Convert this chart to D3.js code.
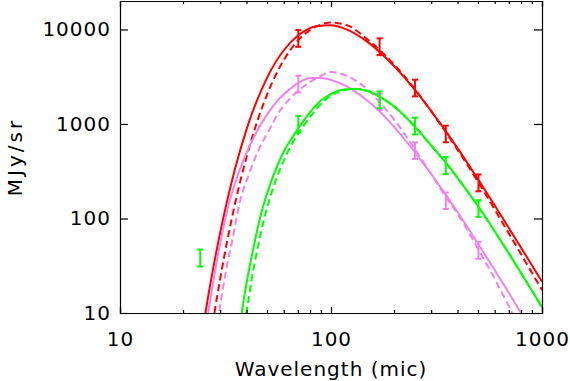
<!DOCTYPE html>
<html>
<head>
<meta charset="utf-8">
<script src="https://cdn.jsdelivr.net/npm/d3@7"></script>
<style>
  body { margin: 0; background: #fff; }
  text { font-family: "DejaVu Sans", sans-serif; fill: #000; }
</style>
</head>
<body>
<div id="chart"></div>
<script>
// photometry (MJy/sr) with error bars
const redBands = [70, 170, 250, 350, 500];
const redFlux = [8200, 6700, 2450, 800, 243];
const redErr = [1650, 1350, 490, 160, 49];

const pinkBands = [70, 170, 250, 350, 500];
const pinkFlux = [2700, 1750, 534, 157, 47];
const pinkErr = [540, 350, 107, 31, 9.5];

const greenBands = [24, 70, 170, 250, 350, 500];
const greenFlux = [39, 1010, 1840, 970, 371, 130];
const greenErr = [8, 200, 370, 195, 75, 26];

// fitted curves
const redSolidWave = [25, 26, 28, 30, 35, 40, 50, 60, 70, 85, 100, 120, 150, 200, 250, 300, 400, 500, 700, 1000];
const redSolidFlux = [8, 13.7, 34.5, 75, 328, 910, 3150, 6100, 8670, 10830, 11110, 9900, 7300, 4050, 2300, 1350, 545, 255, 78, 21.5];
const redDashWave = [27, 28, 30, 35, 40, 50, 60, 70, 85, 100, 120, 150, 200, 250, 300, 400, 500, 700, 1000];
const redDashFlux = [5.9, 9.9, 24.6, 140, 468, 2100, 4820, 7750, 10700, 11850, 11000, 7750, 4200, 2330, 1340, 525, 240, 68, 17.5];

const pinkSolidWave = [25, 26, 28, 30, 33, 36, 40, 45, 50, 56, 63, 70, 80, 90, 100, 120, 150, 170, 200, 250, 300, 350, 400, 500, 600, 700, 800, 900];
const pinkSolidFlux = [5, 9, 25, 58, 150, 280, 510, 870, 1280, 1780, 2280, 2720, 3070, 3060, 2920, 2470, 1740, 1360, 920, 500, 290, 178, 115, 53, 28, 16, 9.8, 6.3];
const pinkDashWave = [29, 31.5, 34, 37, 40.5, 45, 51, 56, 63, 71, 79, 90, 100, 112, 130, 150, 170, 200, 250, 300, 350, 400, 500, 600, 700, 800];
const pinkDashFlux = [8, 25, 58, 150, 280, 510, 870, 1280, 1800, 2300, 2750, 3250, 3550, 3400, 2900, 2300, 1700, 1100, 540, 290, 170, 110, 47, 22.5, 11.5, 6.3];

const greenSolidWave = [37, 38, 40, 43, 46, 50, 55, 60, 65, 70, 80, 90, 100, 115, 130, 150, 170, 200, 250, 300, 350, 400, 500, 600, 700, 800, 900, 1000];
const greenSolidFlux = [7, 11, 22, 50, 100, 190, 340, 520, 700, 900, 1350, 1780, 2080, 2320, 2350, 2220, 1950, 1520, 935, 585, 390, 265, 133, 72, 42, 26, 17, 11.5];
const greenDashWave = [39, 40, 42, 45, 48, 52, 57, 62, 66, 70, 80, 90, 100, 115, 130, 150, 170, 200, 250, 300, 350, 400, 500, 600, 700, 800, 900, 1000];
const greenDashFlux = [7.5, 11, 22, 50, 95, 180, 320, 490, 640, 790, 1200, 1640, 1990, 2290, 2360, 2230, 1950, 1520, 935, 585, 390, 265, 133, 72, 42, 26, 17, 11.5];

const xTicks = [10, 100, 1000];
const yTicks = [10, 100, 1000, 10000];

const width = 570, height = 381;
const plotLeft = 120, plotRight = 542, plotTop = 1, plotBottom = 313;

const svg = d3.select("#chart").append("svg")
    .attr("width", width)
    .attr("height", height);

const x = d3.scaleLog().domain([10, 1000]).range([plotLeft, plotRight]);
const y = d3.scaleLog().domain([10, 20000]).range([plotBottom, plotTop]);

svg.append("clipPath").attr("id", "plot-clip")
    .append("rect")
    .attr("x", plotLeft).attr("y", plotTop)
    .attr("width", plotRight - plotLeft).attr("height", plotBottom - plotTop);

const plot = svg.append("g").attr("clip-path", "url(#plot-clip)");

const line = d3.line()
    .x(d => x(d[0]))
    .y(d => y(d[1]))
    .curve(d3.curveMonotoneX);

function drawCurve(waves, fluxes, color, dashed) {
    plot.append("path")
        .datum(d3.zip(waves, fluxes))
        .attr("d", line)
        .attr("fill", "none")
        .attr("stroke", color)
        .attr("stroke-width", 2)
        .attr("stroke-dasharray", dashed ? "7,4" : null);
}

drawCurve(redSolidWave, redSolidFlux, "#ff0000", false);
drawCurve(redDashWave, redDashFlux, "#ff0000", true);
drawCurve(pinkSolidWave, pinkSolidFlux, "#ee82ee", false);
drawCurve(pinkDashWave, pinkDashFlux, "#ee82ee", true);
drawCurve(greenSolidWave, greenSolidFlux, "#00ff00", false);
drawCurve(greenDashWave, greenDashFlux, "#00ff00", true);

function drawErrors(bands, fluxes, errs, color) {
    const g = plot.append("g")
        .attr("stroke", color)
        .attr("stroke-width", 2);
    bands.forEach((b, i) => {
        const cx = x(b);
        const hi = y(fluxes[i] + errs[i]);
        const lo = y(fluxes[i] - errs[i]);
        g.append("line").attr("x1", cx).attr("x2", cx).attr("y1", hi).attr("y2", lo);
        g.append("line").attr("x1", cx - 3).attr("x2", cx + 3).attr("y1", hi).attr("y2", hi);
        g.append("line").attr("x1", cx - 3).attr("x2", cx + 3).attr("y1", lo).attr("y2", lo);
    });
}

drawErrors(pinkBands, pinkFlux, pinkErr, "#ee82ee");
drawErrors(greenBands, greenFlux, greenErr, "#00ff00");
drawErrors(redBands, redFlux, redErr, "#ff0000");

// axes box with ticks on all four sides
const xMinor = [];
[10, 100].forEach(d => { for (let k = 2; k <= 9; k++) xMinor.push(d * k); });

const bottomAxis = d3.axisBottom(x).tickValues(xTicks).tickFormat(d3.format("d")).tickSize(-6).tickPadding(19);
const topAxis = d3.axisTop(x).tickValues(xTicks).tickFormat("").tickSize(-6);
const leftAxis = d3.axisLeft(y).tickValues(yTicks).tickFormat(d3.format("d")).tickSize(-8).tickPadding(9);
const rightAxis = d3.axisRight(y).tickValues(yTicks).tickFormat("").tickSize(-8);

function styleAxis(g) {
    g.selectAll("path").attr("stroke", "#000").attr("stroke-width", 1.2);
    g.selectAll("line").attr("stroke", "#000").attr("stroke-width", 1.2);
    g.selectAll("text")
        .style("font-size", "20px")
        .style("letter-spacing", "1px")
        .attr("fill", "#000");
}

svg.append("g").attr("transform", `translate(0,${plotBottom})`).call(bottomAxis).call(styleAxis);
svg.append("g").attr("transform", `translate(0,${plotTop})`).call(topAxis).call(styleAxis);
svg.append("g").attr("transform", `translate(${plotLeft},0)`).call(leftAxis).call(styleAxis);
svg.append("g").attr("transform", `translate(${plotRight},0)`).call(rightAxis).call(styleAxis);

// minor ticks, x only
svg.append("g").selectAll("line").data(xMinor).enter().append("line")
    .attr("x1", d => x(d)).attr("x2", d => x(d))
    .attr("y1", plotBottom).attr("y2", plotBottom - 3)
    .attr("stroke", "#000").attr("stroke-width", 1.2);
svg.append("g").selectAll("line").data(xMinor).enter().append("line")
    .attr("x1", d => x(d)).attr("x2", d => x(d))
    .attr("y1", plotTop).attr("y2", plotTop + 3)
    .attr("stroke", "#000").attr("stroke-width", 1.2);

// axis titles
svg.append("text")
    .attr("x", (plotLeft + plotRight) / 2)
    .attr("y", 376)
    .attr("text-anchor", "middle")
    .style("font-size", "20px")
    .style("letter-spacing", "1px")
    .text("Wavelength (mic)");

svg.append("text")
    .attr("transform", `translate(22,${(plotTop + plotBottom) / 2}) rotate(-90)`)
    .attr("text-anchor", "middle")
    .style("font-size", "20px")
    .style("letter-spacing", "3px")
    .text("MJy/sr");
</script>
</body>
</html>
